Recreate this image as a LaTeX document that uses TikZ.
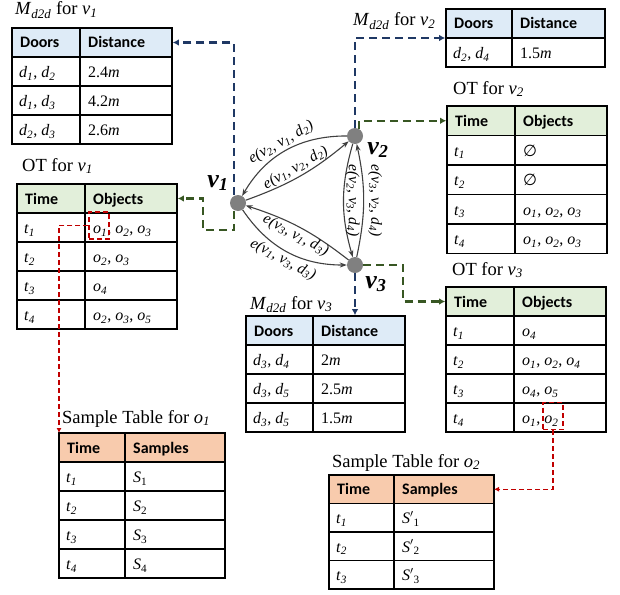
\documentclass[tikz,border=0pt]{standalone}
\usepackage{fontspec}
\setmainfont{Liberation Serif}
\newfontfamily\hdfont{Carlito}
\newfontfamily\symfont{DejaVu Sans}
\usetikzlibrary{arrows.meta,calc}
\definecolor{mblue}{RGB}{222,235,247}
\definecolor{mgreen}{RGB}{226,239,218}
\definecolor{mpeach}{RGB}{248,203,173}
\definecolor{dblue}{RGB}{31,56,100}
\definecolor{dgreen}{RGB}{56,87,35}
\definecolor{dred}{RGB}{192,0,0}
\definecolor{edgegray}{RGB}{64,64,64}
\definecolor{nodegray}{RGB}{128,128,128}
\newcommand\ix[2]{\textit{#1}\textsubscript{\textit{#2}}}
\newcommand\iu[2]{\textit{#1}\textsubscript{#2}}
\newcommand\mdd{\ix{M}{d2d}}
\newcommand\cellf{\fontsize{16}{18}\selectfont}
\newcommand\headf{\hdfont\bfseries\fontsize{16}{18}\selectfont}
\newcommand\elab[3]{e(v\textsubscript{\textit{#1}}, v\textsubscript{\textit{#2}}, d\textsubscript{\textit{#3}})}
\tikzset{
  tline/.style={draw=black, line width=1.5pt},
  tframe/.style={draw=black, line width=1.5pt, inner sep=0pt, outer sep=0pt},
  hcell/.style={anchor=base west, inner sep=0pt, font=\headf},
  bcell/.style={anchor=base west, inner sep=0pt, font=\cellf},
  ttl/.style={anchor=base west, inner sep=0pt, font=\fontsize{18.5}{20}\selectfont},
  vert/.style={circle, fill=nodegray, minimum size=16pt, inner sep=0pt},
  vlab/.style={inner sep=0pt, font=\bfseries\itshape\fontsize{26}{28}\selectfont},
  gedge/.style={draw=edgegray, line width=1.1pt},
  etxt/.style={font=\itshape\fontsize{15.5}{16}\selectfont, inner sep=1.5pt},
  bdash/.style={draw=dblue, line width=2.4pt, dash pattern=on 8pt off 5pt,
    -{Latex[length=6pt,width=6.5pt]}, shorten >=0.8pt},
  gdash/.style={draw=dgreen, line width=2.4pt, dash pattern=on 8pt off 5pt,
    -{Latex[length=6pt,width=6.5pt]}, shorten >=0.8pt},
  rdash/.style={draw=dred, line width=1.5pt, dash pattern=on 5pt off 3pt,
    -{Latex[length=5pt,width=5pt]}},
  rbox/.style={draw=dred, line width=1.5pt, dash pattern=on 5pt off 3pt,
    minimum width=20pt, minimum height=27pt, inner sep=0pt},
}
% name, w1, w2, row height, rows, header fill
\newcommand\tabgrid[6]{%
  \fill[#6] (0,0) rectangle ({#2+#3},#4);
  \foreach \k in {1,...,#5} {\draw[tline] (0,{\k*#4}) -- ({#2+#3},{\k*#4});}
  \draw[tline] (#2,0) -- (#2,{#5*#4});
  \node[tframe, minimum width={(#2+#3)*1pt}, minimum height={(#4*#5)*1pt},
    anchor=north west] (#1) at (0,0) {};
  \coordinate (#1-he) at ({#2+#3},{#4/2});
  \coordinate (#1-hw) at (0,{#4/2});
  \coordinate (#1-hsw) at (0,#4);
}
% name, w1, rh, text1, text2
\newcommand\hdrow[5]{%
  \node[hcell] (#1-1-1) at (8,{#3*0.5+5.5}) {#4};
  \node[hcell] (#1-1-2) at ({#2+8},{#3*0.5+5.5}) {#5};
}
% name, row, w1, rh, text1, text2
\newcommand\bdrow[6]{%
  \node[bcell] (#1-#2-1) at (7,{#4*(#2-0.5)+6}) {#5};
  \node[bcell] (#1-#2-2) at ({#3+8},{#4*(#2-0.5)+6}) {#6};
}
\begin{document}
\begin{tikzpicture}[x=1pt,y=-1pt]
\useasboundingbox (0,0) rectangle (620,594);
\fill[white] (0,0) rectangle (620,594);

% titles
\node[ttl] (ttl1) at (15,15) {\mdd{} for \ix{v}{1}};
\node[ttl] (ttl2) at (353,26) {\mdd{} for \ix{v}{2}};
\node[ttl] (ttl3) at (453,94) {OT for \ix{v}{2}};
\node[ttl] (ttl4) at (22,171) {OT for \ix{v}{1}};
\node[ttl] (ttl5) at (250,309) {\mdd{} for \ix{v}{3}};
\node[ttl] (ttl6) at (452,275) {OT for \ix{v}{3}};
\node[ttl] (ttl7) at (62,423) {Sample Table for \ix{o}{1}};
\node[ttl] (ttl8) at (332,467) {Sample Table for \ix{o}{2}};

% M_d2d for v1
\begin{scope}[shift={(12,28)}]
  \tabgrid{mv1}{68}{92}{29}{4}{mblue}
  \hdrow{mv1}{68}{29}{Doors}{Distance}
  \bdrow{mv1}{2}{68}{29}{\ix{d}{1}, \ix{d}{2}}{2.4\textit{m}}
  \bdrow{mv1}{3}{68}{29}{\ix{d}{1}, \ix{d}{3}}{4.2\textit{m}}
  \bdrow{mv1}{4}{68}{29}{\ix{d}{2}, \ix{d}{3}}{2.6\textit{m}}
\end{scope}
% M_d2d for v2
\begin{scope}[shift={(446,9)}]
  \tabgrid{mv2}{66}{93}{29}{2}{mblue}
  \hdrow{mv2}{66}{29}{Doors}{Distance}
  \bdrow{mv2}{2}{66}{29}{\ix{d}{2}, \ix{d}{4}}{1.5\textit{m}}
\end{scope}
% OT for v2
\begin{scope}[shift={(447,106)}]
  \tabgrid{otv2}{68}{92}{29.5}{5}{mgreen}
  \hdrow{otv2}{68}{29.5}{Time}{Objects}
  \bdrow{otv2}{2}{68}{29.5}{\ix{t}{1}}{{\symfont ∅}}
  \bdrow{otv2}{3}{68}{29.5}{\ix{t}{2}}{{\symfont ∅}}
  \bdrow{otv2}{4}{68}{29.5}{\ix{t}{3}}{\ix{o}{1}, \ix{o}{2}, \ix{o}{3}}
  \bdrow{otv2}{5}{68}{29.5}{\ix{t}{4}}{\ix{o}{1}, \ix{o}{2}, \ix{o}{3}}
\end{scope}
% OT for v1
\begin{scope}[shift={(17,184)}]
  \tabgrid{otv1}{68}{92}{29}{5}{mgreen}
  \hdrow{otv1}{68}{29}{Time}{Objects}
  \bdrow{otv1}{2}{68}{29}{\ix{t}{1}}{\ix{o}{1}, \ix{o}{2}, \ix{o}{3}}
  \bdrow{otv1}{3}{68}{29}{\ix{t}{2}}{\ix{o}{2}, \ix{o}{3}}
  \bdrow{otv1}{4}{68}{29}{\ix{t}{3}}{\ix{o}{4}}
  \bdrow{otv1}{5}{68}{29}{\ix{t}{4}}{\ix{o}{2}, \ix{o}{3}, \ix{o}{5}}
\end{scope}
% M_d2d for v3
\begin{scope}[shift={(246,316)}]
  \tabgrid{mv3}{67}{92}{29}{4}{mblue}
  \hdrow{mv3}{67}{29}{Doors}{Distance}
  \bdrow{mv3}{2}{67}{29}{\ix{d}{3}, \ix{d}{4}}{2\textit{m}}
  \bdrow{mv3}{3}{67}{29}{\ix{d}{3}, \ix{d}{5}}{2.5\textit{m}}
  \bdrow{mv3}{4}{67}{29}{\ix{d}{3}, \ix{d}{5}}{1.5\textit{m}}
\end{scope}
% OT for v3
\begin{scope}[shift={(446,287)}]
  \tabgrid{otv3}{68}{92}{29}{5}{mgreen}
  \hdrow{otv3}{68}{29}{Time}{Objects}
  \bdrow{otv3}{2}{68}{29}{\ix{t}{1}}{\ix{o}{4}}
  \bdrow{otv3}{3}{68}{29}{\ix{t}{2}}{\ix{o}{1}, \ix{o}{2}, \ix{o}{4}}
  \bdrow{otv3}{4}{68}{29}{\ix{t}{3}}{\ix{o}{4}, \ix{o}{5}}
  \bdrow{otv3}{5}{68}{29}{\ix{t}{4}}{\ix{o}{1}, \ix{o}{2}}
\end{scope}
% Sample table for o1
\begin{scope}[shift={(59,433)}]
  \tabgrid{so1}{66}{100}{29}{5}{mpeach}
  \hdrow{so1}{66}{29}{Time}{Samples}
  \bdrow{so1}{2}{66}{29}{\ix{t}{1}}{\iu{S}{1}}
  \bdrow{so1}{3}{66}{29}{\ix{t}{2}}{\iu{S}{2}}
  \bdrow{so1}{4}{66}{29}{\ix{t}{3}}{\iu{S}{3}}
  \bdrow{so1}{5}{66}{29}{\ix{t}{4}}{\iu{S}{4}}
\end{scope}
% Sample table for o2
\begin{scope}[shift={(329,475)}]
  \tabgrid{so2}{65}{100}{28.5}{4}{mpeach}
  \hdrow{so2}{65}{28.5}{Time}{Samples}
  \bdrow{so2}{2}{65}{28.5}{\ix{t}{1}}{\textit{S}$'$\textsubscript{1}}
  \bdrow{so2}{3}{65}{28.5}{\ix{t}{2}}{\textit{S}$'$\textsubscript{2}}
  \bdrow{so2}{4}{65}{28.5}{\ix{t}{3}}{\textit{S}$'$\textsubscript{3}}
\end{scope}

% red highlight boxes
\node[rbox] (rb1) at (99,225.5) {};
\node[rbox] (rb2) at (553,416) {};

% graph vertices
\node[vert] (v1) at (238,203) {};
\node[vert] (v2) at (355,136) {};
\node[vert] (v3) at (355,265) {};
\node[vlab] (lv1) at (218,183) {\ix{v}{1}};
\node[vlab] (lv2) at (378,150) {\ix{v}{2}};
\node[vlab] (lv3) at (376,284) {\ix{v}{3}};

% graph edges
\draw[gedge, {Stealth[length=7pt,width=5pt]}-] (v1) to[bend left=30]
  node[etxt, sloped, above] {\elab{2}{1}{2}} (v2);
\draw[gedge, -{Stealth[length=7pt,width=5pt]}] (v1) to[bend right=10]
  node[etxt, sloped, above] {\elab{1}{2}{2}} (v2);
\draw[gedge, {Stealth[length=7pt,width=5pt]}-] (v1) to[bend left=10]
  node[etxt, sloped, below] {\elab{3}{1}{3}} (v3);
\draw[gedge, -{Stealth[length=7pt,width=5pt]}] (v1) to[bend right=28]
  node[etxt, sloped, below] {\elab{1}{3}{3}} (v3);
\draw[gedge, -{Stealth[length=7pt,width=5pt]}] (v2) to[bend right=16]
  node[etxt, rotate=-90, anchor=south] {\elab{2}{3}{4}} (v3);
\draw[gedge, {Stealth[length=7pt,width=5pt]}-] (v2) to[bend left=12]
  node[etxt, rotate=-90, anchor=south, inner sep=4pt] {\elab{3}{2}{4}} (v3);

% dashed connectors
\draw[bdash] ([xshift=-4pt]v1.north) |- (mv1-he);
\draw[gdash] ([xshift=-4pt]v1.south) -- ++(0,19) -| ([xshift=26pt]otv1-he) -- (otv1-he);
\draw[bdash] (v2.north) |- (mv2-hsw);
\draw[gdash] (v2.60) |- (otv2-hw);
\draw[gdash] (v3.east) -| ([xshift=-43pt]otv3-hw) -- (otv3-hw);
\draw[bdash] (v3.south) -- (v3.south |- mv3.north);
\draw[rdash] (rb1.west) -| (so1.north west);
\draw[rdash] (rb2.south) |- (so2-he);
\end{tikzpicture}
\end{document}
